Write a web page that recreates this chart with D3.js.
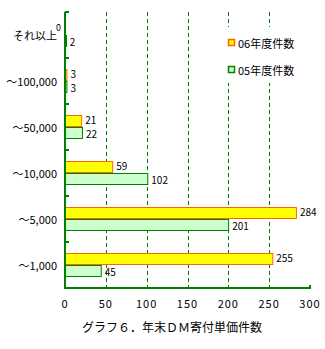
<!DOCTYPE html>
<html><head><meta charset="utf-8">
<script src="https://cdn.jsdelivr.net/npm/d3@7"></script>
<style>
body{margin:0;background:#fff;}
text{font-family:"Noto Sans CJK JP","DejaVu Sans",sans-serif;fill:#000;}
</style></head>
<body>
<svg id="c" width="325" height="349"></svg>
<script>
const categories = ["それ以上","～100,000","～50,000","～10,000","～5,000","～1,000"];
const seriesNames = ["06年度件数","05年度件数"];
const values06 = [0,3,21,59,284,255];
const values05 = [2,3,22,102,201,45];
const xTicks = [0,50,100,150,200,250,300];
const title = "グラフ６．年末ＤＭ寄付単価件数";

const fills = ["#ffff00","#ccffcc"];
const strokes = ["#ff6600","#008000"];
const axisColor = "#008000";

const svg = d3.select("#c");
const mLeft = 65, mRight = 310, mTop = 12, mBottom = 288;

const x = d3.scaleLinear().domain([0,300]).range([mLeft,mRight]);
const y0 = d3.scaleBand().domain(categories).range([mTop,mBottom]);
const y1 = d3.scaleBand().domain(seriesNames).range([11,35]);
const labelShift = [-2, 0.5];

// grid lines
const grid = svg.append("g");
xTicks.slice(1,-1).forEach(t=>{
  grid.append("line").attr("x1",Math.round(x(t))+0.5).attr("x2",Math.round(x(t))+0.5)
    .attr("y1",mTop).attr("y2",mBottom).attr("stroke",axisColor).attr("stroke-width",1)
    .attr("stroke-dasharray","4,3");
});

// legend background (hides grid)
svg.append("rect").attr("x",222).attr("y",27).attr("width",85).attr("height",56).attr("fill","#fff");

const data = categories.map((c,i)=>({cat:c, vals:[values06[i],values05[i]]}));

const groups = svg.append("g").selectAll("g").data(data).join("g")
  .attr("transform",d=>`translate(0,${y0(d.cat)})`);

groups.each(function(d){
  const g = d3.select(this);
  d.vals.forEach((v,si)=>{
    const yy = y1(seriesNames[si]);
    const h = y1.bandwidth();
    if (v>0) {
      g.append("rect").attr("x",x(0)+0.5).attr("y",Math.round(yy)+0.5)
        .attr("width",Math.max(1,x(v)-x(0)-1)).attr("height",h-1)
        .attr("fill",fills[si]).attr("stroke",strokes[si]).attr("stroke-width",1);
    }
    const lbl = g.append("text").text(v);
    if (v===0) {
      lbl.attr("font-size","9px").attr("x",x(0)-9).attr("y",yy+8);
    } else {
      lbl.attr("font-size","10px").attr("x",x(v)+3).attr("y",yy+h/2+labelShift[si]).attr("dominant-baseline","central");
    }
  });
});

// category labels
svg.append("g").selectAll("text").data(categories).join("text")
  .attr("x",57).attr("y",d=>y0(d)+y0.bandwidth()/2)
  .attr("text-anchor","end").attr("dominant-baseline","central")
  .attr("font-size","11px").text(d=>d);

// left axis
svg.append("line").attr("x1",mLeft).attr("x2",mLeft).attr("y1",mTop).attr("y2",mBottom+1)
  .attr("stroke",axisColor).attr("stroke-width",2);
const bounds = categories.map(c=>y0(c));
bounds.forEach(b=>{
  svg.append("line").attr("x1",mLeft).attr("x2",mLeft+4).attr("y1",Math.round(b)).attr("y2",Math.round(b))
    .attr("stroke",axisColor).attr("stroke-width",2);
});
// bottom axis
svg.append("line").attr("x1",mLeft-1).attr("x2",mRight+1).attr("y1",mBottom).attr("y2",mBottom)
  .attr("stroke",axisColor).attr("stroke-width",2);
svg.append("line").attr("x1",mRight).attr("x2",mRight).attr("y1",mBottom-3).attr("y2",mBottom)
  .attr("stroke",axisColor).attr("stroke-width",2);

// x tick labels
svg.append("g").selectAll("text").data(xTicks).join("text")
  .attr("x",d=>x(d)).attr("y",303).attr("text-anchor","middle").attr("dominant-baseline","central")
  .attr("font-size","11px").attr("letter-spacing","1px").text(d=>d);

// legend
seriesNames.forEach((s,i)=>{
  const ly = 43 + i*27;
  svg.append("rect").attr("x",228.5).attr("y",ly-3.5).attr("width",6).attr("height",6)
    .attr("fill",fills[i]).attr("stroke",strokes[i]).attr("stroke-width",1.5);
  svg.append("text").attr("x",238).attr("y",ly).attr("dominant-baseline","central")
    .attr("font-size","11px").text(s);
});

// title
svg.append("text").attr("x",172).attr("y",326).attr("text-anchor","middle").attr("dominant-baseline","central")
  .attr("font-size","12px").text(title);
</script>
</body></html>
